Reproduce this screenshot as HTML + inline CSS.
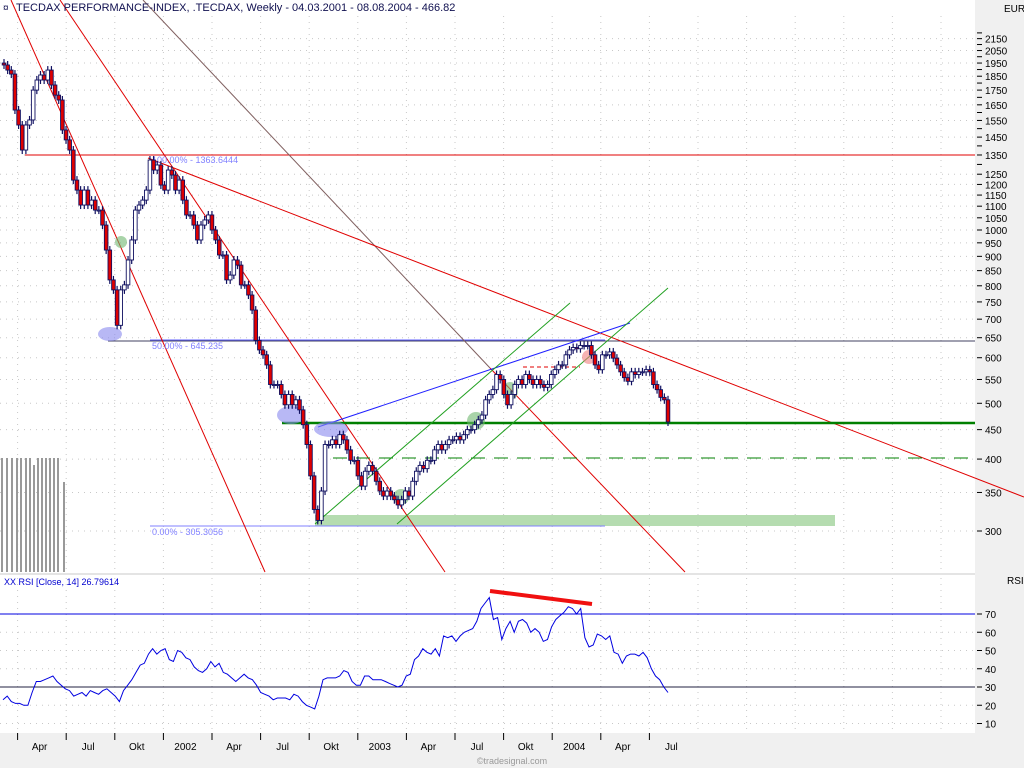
<!DOCTYPE html>
<html><head><meta charset="utf-8"><style>
body{margin:0;background:#fff;font-family:"Liberation Sans",sans-serif}
svg{display:block}
</style></head><body>
<svg id="chart" width="1024" height="768" xmlns="http://www.w3.org/2000/svg" font-family="Liberation Sans, sans-serif">
<rect x="0" y="0" width="1024" height="768" fill="#fff"/>
<rect x="975" y="0" width="49" height="768" fill="#f0f0f0"/>
<rect x="0" y="733" width="1024" height="35" fill="#f0f0f0"/>
<line x1="0" y1="574" x2="975" y2="574" stroke="#c8c8c8"/>
<g id="grid"></g>
<g id="drawings">
  <g fill="#999">
    <rect x="1" y="458" width="2" height="114"/><rect x="6" y="458" width="2" height="114"/><rect x="11" y="458" width="2" height="114"/><rect x="16" y="458" width="2" height="114"/><rect x="20" y="458" width="2" height="114"/><rect x="25" y="458" width="2" height="114"/><rect x="29" y="458" width="2" height="114"/><rect x="33" y="465" width="2" height="107"/><rect x="37" y="458" width="2" height="114"/><rect x="41" y="458" width="2" height="114"/><rect x="45" y="458" width="2" height="114"/><rect x="49" y="458" width="2" height="114"/><rect x="53" y="458" width="2" height="114"/><rect x="57" y="458" width="2" height="114"/><rect x="63" y="482" width="2" height="90"/>
  </g>
  <rect x="315" y="515" width="520" height="11" fill="#b5dcb0"/>
  <line x1="150" y1="155" x2="605" y2="155" stroke="#8080ff"/>
  <line x1="150" y1="526" x2="605" y2="526" stroke="#8080ff"/>
  <line x1="25" y1="155" x2="975" y2="155" stroke="#e00000"/>
  <line x1="108" y1="341" x2="975" y2="341" stroke="#404060"/>
  <line x1="150" y1="340" x2="605" y2="340" stroke="#6060ff"/>
  <line x1="11" y1="0" x2="265" y2="572" stroke="#e00000"/>
  <line x1="60" y1="0" x2="445" y2="572" stroke="#e00000"/>
  <line x1="143" y1="0" x2="490" y2="368" stroke="#806060"/>
  <line x1="490" y1="368" x2="685" y2="572" stroke="#e00000"/>
  <line x1="148" y1="158" x2="1024" y2="497" stroke="#e00000"/>
  <line x1="282" y1="423" x2="975" y2="423" stroke="#008000" stroke-width="2.5"/>
  <line x1="333" y1="458" x2="975" y2="458" stroke="#008000" stroke-dasharray="14,9"/>
  <line x1="318" y1="427" x2="630" y2="323" stroke="#2020ff"/>
  <line x1="315" y1="524" x2="570" y2="303" stroke="#20a020"/>
  <line x1="397" y1="524" x2="668" y2="288" stroke="#20a020"/>
  <line x1="523" y1="367" x2="580" y2="367" stroke="#e00000" stroke-dasharray="4,3"/>
  <ellipse cx="110" cy="334" rx="12" ry="7" fill="#8888ee" opacity="0.6"/>
  <ellipse cx="291" cy="415" rx="14" ry="9" fill="#8888ee" opacity="0.6"/>
  <ellipse cx="331" cy="429" rx="17" ry="8" fill="#8888ee" opacity="0.6"/>
  <ellipse cx="121" cy="242" rx="6" ry="6" fill="#70b870" opacity="0.6"/>
  <ellipse cx="401" cy="497" rx="8" ry="8" fill="#70b870" opacity="0.6"/>
  <ellipse cx="476" cy="421" rx="9" ry="9" fill="#70b870" opacity="0.6"/>
  <ellipse cx="510" cy="391" rx="8" ry="9" fill="#70b870" opacity="0.6"/>
  <ellipse cx="589" cy="357" rx="7" ry="7" fill="#f08080" opacity="0.6"/>
  <text x="152" y="163" font-size="9" fill="#8080ff">100.00% - 1363.6444</text>
  <text x="152" y="349" font-size="9" fill="#8080ff">50.00% - 645.235</text>
  <text x="152" y="535" font-size="9" fill="#8080ff">0.00% - 305.3056</text>
  <line x1="0" y1="614" x2="975" y2="614" stroke="#0000e0"/>
  <line x1="0" y1="687" x2="975" y2="687" stroke="#202040"/>
  <line x1="490" y1="591" x2="592" y2="604" stroke="#f01010" stroke-width="4"/>
</g>
<g id="candles"></g>
<g id="rsi"></g>
<g id="axes"></g>
<text x="16" y="11" font-size="11" fill="#101050">TECDAX PERFORMANCE-INDEX, .TECDAX, Weekly - 04.03.2001 - 08.08.2004 - 466.82</text>
<text x="3" y="11" font-size="10" fill="#101050">¤</text>
<text x="4" y="585" font-size="9" fill="#0000d0">XX RSI [Close, 14] 26.79614</text>
<text x="1004" y="12" font-size="10" fill="#000">EUR</text>
<text x="1007" y="584" font-size="10" fill="#000">RSI</text>
<text x="512" y="764" font-size="9" fill="#999" text-anchor="middle">©tradesignal.com</text>
</svg>
<script>
const closes=[1935,1896,1866,1616,1522,1377,1522,1553,1750,1822,1859,1822,1896,1786,1715,1682,1492,1434,1377,1221,1173,1105,1173,1105,1127,1083,1083,1020,923,819,787,683,787,803,887,961,1083,1105,1127,1173,1323,1271,1297,1197,1173,1271,1246,1173,1221,1127,1062,1062,1020,961,1020,1041,1062,1000,961,905,905,819,835,887,869,803,803,771,726,643,619,607,583,539,539,539,518,497,518,497,507,487,459,424,374,327,313,352,424,424,432,424,441,432,415,398,398,374,359,381,390,381,366,352,345,352,345,340,333,340,352,345,366,381,390,385,398,398,415,424,415,424,432,432,438,432,441,450,450,459,468,477,507,518,528,561,550,518,497,518,539,550,539,561,550,539,550,539,533,539,561,572,583,583,607,619,625,622,630,630,630,607,583,572,607,607,614,599,583,567,554,546,567,561,567,567,572,567,539,528,512,507,464];
const rsiValues=[23,25,22,21,21,20,20,27,33,33,34,35,36,33,31,29,28,25,26,27,25,28,27,26,28,29,27,25,22,28,31,34,38,42,43,48,51,48,50,51,45,44,50,49,46,45,41,39,38,40,44,41,43,38,37,35,33,35,37,35,34,31,27,26,25,23,24,24,24,23,26,25,22,20,19,18,25,34,35,35,35,36,39,38,33,31,31,36,36,34,34,34,33,32,31,30,31,36,37,45,47,51,49,48,51,47,58,57,58,55,58,60,61,62,66,73,76,79,67,68,56,62,66,60,66,67,65,60,62,60,55,56,63,67,69,71,74,73,70,73,57,52,53,59,58,56,58,49,48,43,47,48,48,47,49,46,40,36,34,30,27];
const priceTicks=[2150,2050,1950,1850,1750,1650,1550,1450,1350,1250,1200,1150,1100,1050,1000,950,900,850,800,750,700,650,600,550,500,450,400,350,300];
const minorPriceTicks=[2200,2100,2000,1900,1800,1700,1600,1500,1400,1300];
const rsiTicks=[70,60,50,40,30,20,10];
const timeLabels=["Apr","Jul","Okt","2002","Apr","Jul","Okt","2003","Apr","Jul","Okt","2004","Apr","Jul"];

const NS="http://www.w3.org/2000/svg";
function el(tag,attrs,parent){const e=document.createElementNS(NS,tag);for(const k in attrs)e.setAttribute(k,attrs[k]);parent.appendChild(e);return e;}
const yP=p=>531-250*Math.log(p/300);
const yR=v=>687-(v-30)*1.825;
const X0=4,X1=668;
const xC=i=>X0+i*(X1-X0)/(closes.length-1);
const xR=i=>3+i*(X1-3)/(rsiValues.length-1);
const xT=i=>17.6+i*48.6;

const grid=document.getElementById('grid');
const axes=document.getElementById('axes');
for(let i=0;i<20;i++){const x=xT(i);if(x>975)break;
  const g=el('line',{x1:x,y1:16,x2:x,y2:572,stroke:'#c8c8c8','stroke-dasharray':'1,5'},grid);
  
  
  el('line',{x1:x,y1:578,x2:x,y2:732,stroke:'#c8c8c8','stroke-dasharray':'1,5'},grid);
}
priceTicks.forEach(p=>{const y=yP(p);
  const g=el('line',{x1:0,y1:y,x2:975,y2:y,stroke:'#c8c8c8','stroke-dasharray':'1,5'},grid);
  
  
  el('line',{x1:977,y1:y,x2:982,y2:y,stroke:'#000'},axes);
  const t=el('text',{x:985,y:y+4,'font-size':10,fill:'#000'},axes);t.textContent=p;
  
  
});
minorPriceTicks.forEach(p=>{const y=yP(p);el('line',{x1:977,y1:y,x2:982,y2:y,stroke:'#000'},axes);});
rsiTicks.forEach(v=>{const y=yR(v);
  el('line',{x1:0,y1:y,x2:975,y2:y,stroke:'#c8c8c8','stroke-dasharray':'1,5'},grid);
  el('line',{x1:977,y1:y,x2:982,y2:y,stroke:'#000'},axes);
  const t=el('text',{x:985,y:y+4,'font-size':10,fill:'#000'},axes);t.textContent=v;
  
  
});
timeLabels.forEach((s,i)=>{const x=xT(i);
  el('line',{x1:x,y1:733,x2:x,y2:740,stroke:'#000'},axes);
  const t=el('text',{x:x+22,y:750,'font-size':10,fill:'#000','text-anchor':'middle'},axes);t.textContent=s;
  
  
});
const cg=document.getElementById('candles');
let prev=1950;
closes.forEach((c,i)=>{const x=xC(i),o=prev;prev=c;
  const yo=yP(o),yc=yP(c),top=Math.min(yo,yc),bot=Math.max(yo,yc);
  const w=el('line',{x1:x,y1:top-4,x2:x,y2:bot+4,stroke:'#101060','stroke-width':1.2},cg);
  
  
  const b=el('rect',{x:x-1.8,y:top,width:3.6,height:Math.max(bot-top,1),fill:c<o?'#e00000':'#fff',stroke:'#101060','stroke-width':0.9},cg);
  
  
});
const rg=document.getElementById('rsi');
const pts=rsiValues.map((v,i)=>xR(i).toFixed(1)+','+yR(v).toFixed(1)).join(' ');
const pl=el('polyline',{points:pts,fill:'none',stroke:'#0000e0','stroke-width':1},rg);


</script>
</body></html>
